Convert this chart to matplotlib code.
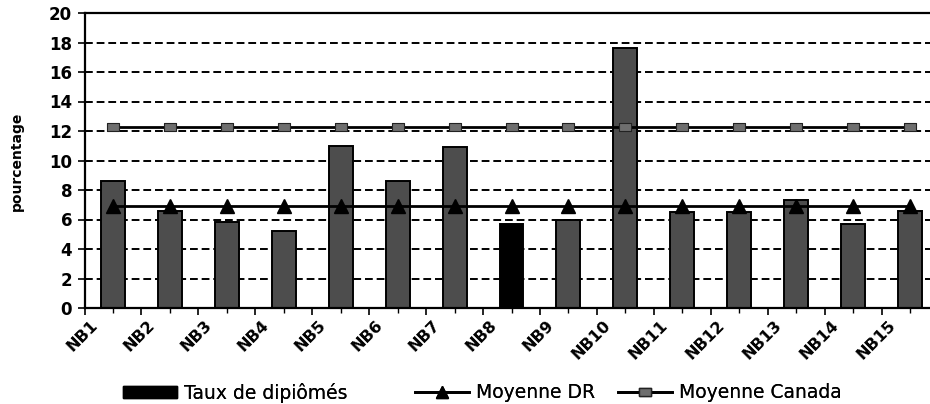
import matplotlib
matplotlib.use("Agg")
import matplotlib.pyplot as plt
from matplotlib.patches import Patch
from matplotlib.lines import Line2D

categories = ["NB1", "NB2", "NB3", "NB4", "NB5", "NB6", "NB7", "NB8", "NB9", "NB10",
              "NB11", "NB12", "NB13", "NB14", "NB15"]
taux = [8.6, 6.6, 5.8, 5.2, 11.0, 8.6, 10.9, 5.7, 6.0, 17.6, 6.5, 6.5, 7.3, 5.7, 6.6]
moyenne_dr = [6.9] * 15
moyenne_canada = [12.3] * 15
highlight = "NB8"
yticks = [0, 2, 4, 6, 8, 10, 12, 14, 16, 18, 20]

plt.rcParams['font.family'] = ['DejaVu Sans']

W, H = 930, 404
fig = plt.figure(figsize=(W / 100, H / 100), dpi=100)
ax = fig.add_axes([84.5 / W, (H - 308) / H, (938.5 - 84.5) / W, (308 - 13) / H])

x = list(range(len(categories)))
colors = ['#000000' if c == highlight else '#4d4d4d' for c in categories]
ax.bar(x, taux, width=0.42, color=colors, edgecolor='black', linewidth=1.4, zorder=2)

ax.plot(x, moyenne_dr, color='black', lw=2.0, marker='^', ms=10,
        markerfacecolor='black', markeredgecolor='black', zorder=3)
rect = [(-1.6, -1), (1.6, -1), (1.6, 1), (-1.6, 1), (-1.6, -1)]
ax.plot(x, moyenne_canada, color='black', lw=2.0, marker=rect, ms=9,
        markerfacecolor='#6e6e6e', markeredgecolor='#222222', markeredgewidth=0.8, zorder=3)

ax.set_xlim(-0.5, len(categories) - 0.5)
ax.set_ylim(0, 20)
ax.set_yticks(yticks)
ax.set_yticklabels([str(v) for v in yticks], fontsize=12, fontweight='bold')
for v in yticks[1:-1]:
    ax.axhline(v, color='black', lw=1.4, ls=(0, (4, 2)), zorder=1)

# tick marks at category boundaries, labels slightly right of them
ax.set_xticks([i - 0.5 for i in x])
ax.set_xticklabels([])
ax.set_xticks([i - 0.3 for i in x], minor=True)
ax.set_xticklabels(categories, minor=True, rotation=45, ha='right', va='center',
                   rotation_mode='anchor', fontsize=11.5, fontweight='bold')

ax.tick_params(axis='both', direction='out', length=5, width=1.2, color='black')
ax.tick_params(axis='y', pad=4)
ax.tick_params(axis='x', which='minor', length=0, pad=10.5)

# small tick marks at category centres
sec = ax.secondary_xaxis('bottom')
sec.set_xticks(x)
sec.set_xticklabels([])
sec.tick_params(direction='out', length=3.5, width=1.0, color='black')
sec.spines['bottom'].set_visible(False)

for s in ['left', 'bottom', 'top']:
    ax.spines[s].set_linewidth(1.6)
ax.spines['right'].set_visible(False)

fig.text(17 / W, 1 - 161 / H, "pourcentage", rotation=90, ha='center', va='center',
         fontsize=10, fontweight='bold')

# legends
ly = 1 - 393 / H
h1 = Patch(facecolor='black', edgecolor='black')
h2 = Line2D([], [], color='black', lw=2.0, marker='^', ms=9, markerfacecolor='black')
h3 = Line2D([], [], color='black', lw=2.0, marker=rect, ms=9,
            markerfacecolor='#6e6e6e', markeredgecolor='#222222')
for h, lab, lx in [(h1, "Taux de dipiômés", 123), (h2, "Moyenne DR", 415), (h3, "Moyenne Canada", 618)]:
    lg = fig.legend([h], [lab], loc='center left', bbox_to_anchor=(lx / W, ly),
                    frameon=False, borderpad=0, borderaxespad=0, fontsize=13.5,
                    handlelength=2.9, handletextpad=0.35, handleheight=0.6)
    fig.add_artist(lg)

fig.savefig("out.png", dpi=100)
